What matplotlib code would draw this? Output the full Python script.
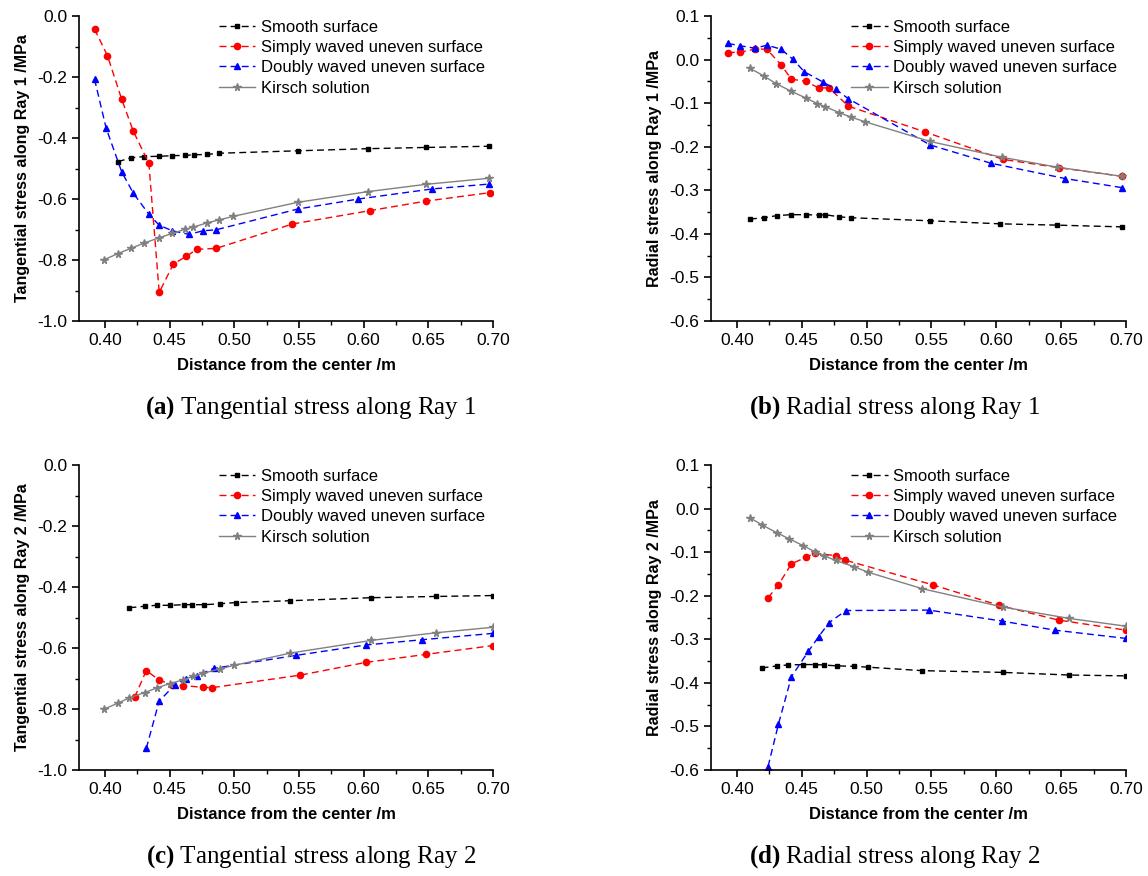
import matplotlib
matplotlib.use("Agg")
import matplotlib.pyplot as plt
from matplotlib.ticker import MultipleLocator, FormatStrFormatter

# ---- (a) Tangential stress along Ray 1 ----
SMOOTH_A_X = [0.410, 0.420, 0.430, 0.442, 0.452, 0.462, 0.469, 0.479, 0.488, 0.549, 0.603, 0.648, 0.697]
SMOOTH_A_Y = [-0.478, -0.465, -0.461, -0.460, -0.458, -0.457, -0.455, -0.454, -0.450, -0.442, -0.435, -0.431, -0.427]
SIMPLE_A_X = [0.392, 0.402, 0.413, 0.422, 0.434, 0.442, 0.453, 0.463, 0.471, 0.486, 0.545, 0.605, 0.648, 0.698]
SIMPLE_A_Y = [-0.043, -0.130, -0.273, -0.378, -0.483, -0.906, -0.813, -0.788, -0.765, -0.762, -0.682, -0.638, -0.607, -0.579]
DOUBLE_A_X = [0.392, 0.401, 0.413, 0.422, 0.434, 0.442, 0.452, 0.465, 0.476, 0.486, 0.549, 0.596, 0.653, 0.697]
DOUBLE_A_Y = [-0.207, -0.368, -0.511, -0.581, -0.650, -0.686, -0.704, -0.716, -0.704, -0.701, -0.633, -0.600, -0.567, -0.551]
KIRSCH_A_X = [0.399, 0.410, 0.420, 0.430, 0.442, 0.452, 0.462, 0.468, 0.479, 0.488, 0.499, 0.549, 0.603, 0.648, 0.697]
KIRSCH_A_Y = [-0.800, -0.779, -0.762, -0.745, -0.727, -0.713, -0.699, -0.693, -0.678, -0.669, -0.657, -0.611, -0.576, -0.552, -0.532]

# ---- (b) Radial stress along Ray 1 ----
SMOOTH_B_X = [0.410, 0.421, 0.431, 0.442, 0.453, 0.463, 0.468, 0.479, 0.488, 0.549, 0.603, 0.647, 0.697]
SMOOTH_B_Y = [-0.366, -0.363, -0.358, -0.356, -0.356, -0.357, -0.356, -0.361, -0.363, -0.370, -0.377, -0.380, -0.384]
SIMPLE_B_X = [0.393, 0.402, 0.414, 0.423, 0.434, 0.442, 0.453, 0.463, 0.471, 0.486, 0.545, 0.605, 0.648, 0.697]
SIMPLE_B_Y = [0.016, 0.017, 0.024, 0.024, -0.012, -0.045, -0.050, -0.065, -0.065, -0.107, -0.166, -0.229, -0.248, -0.268]
DOUBLE_B_X = [0.393, 0.402, 0.414, 0.423, 0.434, 0.443, 0.452, 0.466, 0.476, 0.486, 0.549, 0.596, 0.653, 0.697]
DOUBLE_B_Y = [0.037, 0.032, 0.026, 0.033, 0.024, 0.001, -0.028, -0.051, -0.068, -0.090, -0.196, -0.238, -0.273, -0.294]
KIRSCH_B_X = [0.410, 0.421, 0.430, 0.442, 0.453, 0.462, 0.468, 0.479, 0.488, 0.499, 0.549, 0.604, 0.647, 0.697]
KIRSCH_B_Y = [-0.020, -0.038, -0.055, -0.073, -0.088, -0.101, -0.108, -0.122, -0.132, -0.143, -0.188, -0.224, -0.247, -0.268]

# ---- (c) Tangential stress along Ray 2 ----
SMOOTH_C_X = [0.419, 0.431, 0.440, 0.450, 0.461, 0.467, 0.477, 0.489, 0.501, 0.543, 0.606, 0.656, 0.700]
SMOOTH_C_Y = [-0.468, -0.463, -0.460, -0.460, -0.458, -0.458, -0.458, -0.455, -0.451, -0.445, -0.435, -0.431, -0.428]
SIMPLE_C_X = [0.423, 0.432, 0.442, 0.452, 0.460, 0.476, 0.483, 0.551, 0.602, 0.648, 0.700]
SIMPLE_C_Y = [-0.762, -0.674, -0.705, -0.721, -0.723, -0.729, -0.730, -0.689, -0.647, -0.621, -0.592]
DOUBLE_C_X = [0.432, 0.442, 0.454, 0.463, 0.471, 0.484, 0.548, 0.602, 0.645, 0.700]
DOUBLE_C_Y = [-0.929, -0.774, -0.721, -0.701, -0.691, -0.667, -0.624, -0.590, -0.573, -0.552]
KIRSCH_C_X = [0.399, 0.410, 0.419, 0.431, 0.440, 0.450, 0.460, 0.468, 0.476, 0.489, 0.500, 0.543, 0.606, 0.656, 0.700]
KIRSCH_C_Y = [-0.801, -0.781, -0.763, -0.746, -0.731, -0.717, -0.705, -0.693, -0.683, -0.668, -0.657, -0.617, -0.575, -0.550, -0.532]

# ---- (d) Radial stress along Ray 2 ----
SMOOTH_D_X = [0.419, 0.431, 0.439, 0.451, 0.460, 0.467, 0.477, 0.490, 0.501, 0.543, 0.605, 0.656, 0.700]
SMOOTH_D_Y = [-0.366, -0.361, -0.359, -0.358, -0.358, -0.359, -0.361, -0.362, -0.364, -0.372, -0.376, -0.382, -0.384]
SIMPLE_D_X = [0.424, 0.432, 0.442, 0.453, 0.460, 0.476, 0.483, 0.551, 0.602, 0.648, 0.700]
SIMPLE_D_Y = [-0.205, -0.175, -0.127, -0.112, -0.102, -0.108, -0.118, -0.175, -0.222, -0.256, -0.279]
DOUBLE_D_X = [0.424, 0.432, 0.442, 0.455, 0.463, 0.471, 0.484, 0.548, 0.604, 0.645, 0.700]
DOUBLE_D_Y = [-0.592, -0.495, -0.386, -0.328, -0.294, -0.262, -0.234, -0.233, -0.258, -0.279, -0.298]
KIRSCH_D_X = [0.410, 0.419, 0.431, 0.440, 0.451, 0.460, 0.467, 0.476, 0.490, 0.501, 0.543, 0.605, 0.656, 0.700]
KIRSCH_D_Y = [-0.021, -0.037, -0.056, -0.069, -0.085, -0.099, -0.108, -0.119, -0.133, -0.146, -0.184, -0.226, -0.252, -0.270]

LABELS = ["Smooth surface", "Simply waved uneven surface", "Doubly waved uneven surface", "Kirsch solution"]
XLABEL = "Distance from the center /m"

plt.rcParams["font.family"] = ["Liberation Sans", "DejaVu Sans"]
plt.rcParams["mathtext.fontset"] = "custom"
plt.rcParams["mathtext.bf"] = "Liberation Serif:bold"
plt.rcParams["mathtext.rm"] = "Liberation Serif"

fig = plt.figure(figsize=(11.48, 8.76), dpi=100)
W, H = 1148, 876


def add_axes(left, top, right, bottom):
    return fig.add_axes([left / W, 1 - bottom / H, (right - left) / W, (bottom - top) / H])


def draw_panel(ax, series, ylim, ymajor, ylabel):
    styles = [
        dict(color="black", marker="s", ms=3.5, ls=(0, (5, 3))),
        dict(color="red", marker="o", ms=4.5, ls=(0, (5, 3))),
        dict(color="blue", marker="^", ms=5, ls=(0, (5, 3))),
        dict(color="gray", marker="*", ms=5.5, ls="-"),
    ]
    for (xs, ys), st, lab in zip(series, styles, LABELS):
        ax.plot(xs, ys, lw=1, label=lab, **st)
    ax.set_xlim(0.38, 0.70)
    ax.set_ylim(*ylim)
    ax.xaxis.set_major_locator(MultipleLocator(0.05))
    ax.xaxis.set_minor_locator(MultipleLocator(0.025))
    ax.yaxis.set_major_locator(MultipleLocator(ymajor))
    ax.yaxis.set_minor_locator(MultipleLocator(ymajor / 2))
    ax.xaxis.set_major_formatter(FormatStrFormatter("%.2f"))
    ax.yaxis.set_major_formatter(FormatStrFormatter("%.1f"))
    ax.spines["top"].set_visible(False)
    ax.spines["right"].set_visible(False)
    for s in ("left", "bottom"):
        ax.spines[s].set_linewidth(1.2)
    ax.tick_params(which="major", direction="out", length=5, width=1.2, labelsize=12.5)
    ax.tick_params(which="minor", direction="out", length=3, width=1.0)
    ax.set_xlabel(XLABEL, fontsize=12, fontweight="bold", labelpad=7)
    ax.set_ylabel(ylabel, fontsize=11.5, fontweight="bold", labelpad=5)
    ax.legend(loc="upper left", bbox_to_anchor=(0.337, 0.988), frameon=False, fontsize=12,
              handlelength=2.2, handletextpad=0.35, labelspacing=0.32, borderaxespad=0, borderpad=0)


ax_a = add_axes(79, 16, 493, 321)
draw_panel(ax_a, [(SMOOTH_A_X, SMOOTH_A_Y), (SIMPLE_A_X, SIMPLE_A_Y), (DOUBLE_A_X, DOUBLE_A_Y), (KIRSCH_A_X, KIRSCH_A_Y)],
           (-1.0, 0.0), 0.2, "Tangential stress along Ray 1 /MPa")

ax_b = add_axes(711, 16, 1126, 321)
draw_panel(ax_b, [(SMOOTH_B_X, SMOOTH_B_Y), (SIMPLE_B_X, SIMPLE_B_Y), (DOUBLE_B_X, DOUBLE_B_Y), (KIRSCH_B_X, KIRSCH_B_Y)],
           (-0.6, 0.1), 0.1, "Radial stress along Ray 1 /MPa")

ax_c = add_axes(79, 465, 493, 770)
draw_panel(ax_c, [(SMOOTH_C_X, SMOOTH_C_Y), (SIMPLE_C_X, SIMPLE_C_Y), (DOUBLE_C_X, DOUBLE_C_Y), (KIRSCH_C_X, KIRSCH_C_Y)],
           (-1.0, 0.0), 0.2, "Tangential stress along Ray 2 /MPa")

ax_d = add_axes(711, 465, 1126, 770)
draw_panel(ax_d, [(SMOOTH_D_X, SMOOTH_D_Y), (SIMPLE_D_X, SIMPLE_D_Y), (DOUBLE_D_X, DOUBLE_D_Y), (KIRSCH_D_X, KIRSCH_D_Y)],
           (-0.6, 0.1), 0.1, "Radial stress along Ray 2 /MPa")

captions = [
    (311, 408, "(a)", "Tangential stress along Ray 1"),
    (895, 408, "(b)", "Radial stress along Ray 1"),
    (311, 857, "(c)", "Tangential stress along Ray 2"),
    (895, 857, "(d)", "Radial stress along Ray 2"),
]
for cx, cy, tag, text in captions:
    fig.text(cx / W, 1 - cy / H, r"$\mathbf{%s}$ %s" % (tag, text), ha="center", va="center",
             fontsize=18, family=["Liberation Serif", "DejaVu Serif"])

fig.savefig("out.png", dpi=100)
